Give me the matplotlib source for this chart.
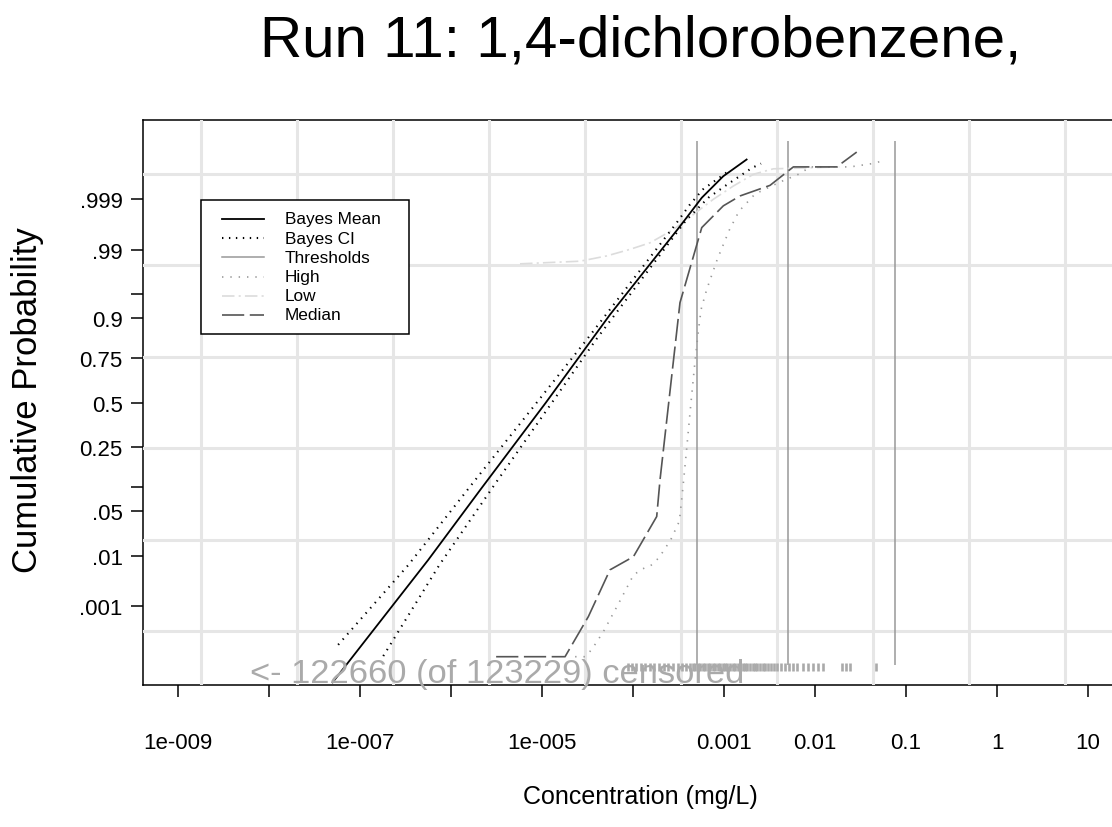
import numpy as np
import matplotlib
matplotlib.use('Agg')
import matplotlib.pyplot as plt
from matplotlib.patches import Rectangle
from matplotlib.lines import Line2D
from matplotlib.ticker import FixedLocator, NullLocator, FixedFormatter
from statistics import NormalDist

plt.rcParams['font.family'] = ['Liberation Sans', 'DejaVu Sans']
plt.rcParams['lines.scale_dashes'] = False

# Bayes mean fit (concentration mg/L, cumulative probability)
mean_conc = [5.0e-8, 5.6e-7, 2.1e-6, 1.1e-5, 5.6e-5, 3.2e-4, 5.7e-4, 9.8e-4, 1.77e-3]
mean_prob = [1.07e-5, 8.4e-3, 0.093, 0.5, 0.91, 0.9961, 0.99908, 0.99971, 0.99989]

# Bayes credible interval, both sides
ci_lo_conc = [5.75e-8, 3.39e-7, 1.76e-6, 3.10e-5, 3.02e-4, 4.16e-4, 5.83e-4, 1.11e-3]
ci_lo_prob = [1.17e-4, 6.8e-3, 0.113, 0.831, 0.99688, 0.99865, 0.99940, 0.99978]
ci_hi_conc = [1.80e-7, 7.43e-7, 3.13e-6, 3.92e-5, 3.82e-4, 6.73e-4, 1.05e-3, 2.03e-3, 2.55e-3]
ci_hi_prob = [5.9e-5, 6.8e-3, 0.113, 0.831, 0.99720, 0.99908, 0.99952, 0.99982, 0.99986]

# empirical curves
med_conc = [3.13e-6, 1.79e-5, 3.23e-5, 5.58e-5, 1.01e-4, 1.82e-4, 1.98e-4, 3.28e-4,
            5.69e-4, 9.82e-4, 1.50e-3, 3.20e-3, 5.78e-3, 1.73e-2, 2.87e-2]
med_prob = [5.67e-5, 5.67e-5, 5.77e-4, 5.54e-3, 9.64e-3, 0.0418, 0.121, 0.9357,
            0.9961, 0.99861, 0.99916, 0.99952, 0.99983, 0.99983, 0.99993]

high_conc = [2.31e-5, 2.97e-5, 3.52e-5, 4.72e-5, 6.89e-5, 1.01e-4, 1.25e-4, 1.58e-4,
             1.93e-4, 2.59e-4, 3.23e-4, 3.52e-4, 3.89e-4, 4.31e-4, 4.80e-4, 5.22e-4,
             5.59e-4, 6.45e-4, 8.44e-4, 1.14e-3, 1.46e-3, 2.19e-3, 4.12e-3, 6.84e-3,
             8.81e-3, 2.43e-2, 4.26e-2, 5.50e-2]
high_prob = [5.67e-5, 5.67e-5, 8.84e-5, 2.51e-4, 1.11e-3, 4.40e-3, 5.70e-3, 6.76e-3,
             9.26e-3, 0.0185, 0.0359, 0.095, 0.245, 0.488, 0.736, 0.861,
             0.9215, 0.9573, 0.9854, 0.9956, 0.99819, 0.99924, 0.99960, 0.99975,
             0.99983, 0.99983, 0.99986, 0.99988]

low_conc = [5.73e-6, 2.62e-5, 5.14e-5, 9.27e-5, 1.54e-4, 2.77e-4, 4.60e-4, 7.62e-4,
            1.26e-3, 2.10e-3, 3.48e-3, 1.88e-2]
low_prob = [0.98257, 0.98422, 0.98713, 0.99010, 0.99245, 0.99573, 0.99788, 0.99900,
            0.99950, 0.99974, 0.99981, 0.99983]

thresholds = [0.0005, 0.005, 0.075]

# censored detection limits (rug)
censored = [8.81e-5, 9.75e-5, 1.08e-4, 1.23e-4, 1.36e-4, 1.54e-4, 1.70e-4, 1.93e-4,
            2.19e-4, 2.43e-4, 2.76e-4, 3.13e-4, 3.45e-4, 3.82e-4,
            4.23e-4, 4.51e-4, 4.80e-4, 5.11e-4, 5.45e-4, 5.80e-4, 6.18e-4, 6.59e-4,
            7.02e-4, 7.48e-4, 7.96e-4, 8.48e-4, 9.04e-4, 9.63e-4, 1.03e-3, 1.09e-3,
            1.16e-3, 1.24e-3, 1.32e-3, 1.41e-3, 1.50e-3, 1.60e-3, 1.70e-3, 1.81e-3,
            1.93e-3, 2.06e-3, 2.19e-3, 2.33e-3, 2.49e-3, 2.65e-3, 2.82e-3,
            3.04e-3, 3.28e-3, 3.54e-3, 3.82e-3, 4.23e-3, 4.68e-3, 5.18e-3, 5.73e-3,
            6.34e-3, 7.38e-3, 8.38e-3, 9.51e-3, 1.08e-2, 1.22e-2, 1.98e-2, 2.19e-2,
            2.42e-2, 4.68e-2]

xticks = [1e-9, 1e-8, 1e-7, 1e-6, 1e-5, 1e-4, 1e-3, 1e-2, 1e-1, 1, 10]
xlabels = ['1e-009', '', '1e-007', '', '1e-005', '', '0.001', '0.01', '0.1', '1', '10']
yticks = [0.001, 0.01, 0.05, 0.1, 0.25, 0.5, 0.75, 0.9, 0.95, 0.99, 0.999]
ylabels = ['.001', '.01', '.05', '', '0.25', '0.5', '0.75', '0.9', '', '.99', '.999']

nd = NormalDist()


def _ppf(p):
    try:
        return nd.inv_cdf(min(max(p, 1e-15), 1 - 1e-15))
    except Exception:
        return np.nan


_ppf_v = np.vectorize(_ppf, otypes=[float])
_cdf_v = np.vectorize(nd.cdf, otypes=[float])


def fwd(p):
    return _ppf_v(np.asarray(p, dtype=float))


def inv(z):
    return _cdf_v(np.asarray(z, dtype=float))


fig = plt.figure(figsize=(11.12, 8.28), dpi=100)
ax = fig.add_axes([143 / 1112, 142 / 828, 994 / 1112, 565.3 / 828])
ax.set_xscale('log')
ax.set_yscale('function', functions=(fwd, inv))
ax.set_xlim(10 ** -9.385, 10 ** 1.538)
ax.set_ylim(nd.cdf(-4.29), nd.cdf(4.30))

# grid, drawn over the frame like the original
for gx in np.logspace(-8.747, 0.747, 10):
    ax.axvline(gx, color='#e6e6e6', lw=2.2, zorder=3)
for gz in [-3.475, -2.085, -0.695, 0.695, 2.085, 3.475]:
    ax.axhline(nd.cdf(gz), color='#e6e6e6', lw=2.2, zorder=3)

ax.vlines(thresholds, nd.cdf(-3.99), nd.cdf(3.97), color='#999999', lw=1.1, zorder=4)
ax.vlines(censored, nd.cdf(-4.08), nd.cdf(-3.96), color='#aaaaaa', lw=1.9, zorder=4)

ax.plot(low_conc, low_prob, color='#dcdcdc', lw=1.2, dashes=(9, 3, 1.5, 3), zorder=4)
ax.plot(high_conc, high_prob, color='#999999', lw=1.2, dashes=(1, 5), zorder=4)
ax.plot(med_conc, med_prob, color='#555555', lw=1.2, dashes=(16, 4), zorder=5)
ax.plot(ci_lo_conc, ci_lo_prob, color='black', lw=1.5, dashes=(1, 4), zorder=5)
ax.plot(ci_hi_conc, ci_hi_prob, color='black', lw=1.5, dashes=(1, 4), zorder=5)
ax.plot(mean_conc, mean_prob, color='black', lw=1.3, zorder=6)

ax.text(0.1076, 0.006, '<- 122660 (of 123229) censored', transform=ax.transAxes,
        fontsize=24.8, color='#aaaaaa', va='baseline', ha='left', zorder=7)

# axes and ticks
ax.xaxis.set_major_locator(FixedLocator(xticks))
ax.xaxis.set_major_formatter(FixedFormatter(xlabels))
ax.xaxis.set_minor_locator(NullLocator())
ax.yaxis.set_major_locator(FixedLocator(yticks))
ax.yaxis.set_major_formatter(FixedFormatter(ylabels))
ax.yaxis.set_minor_locator(NullLocator())
ax.tick_params(axis='both', direction='out', length=8.5, width=1.1, labelsize=16)
ax.tick_params(axis='x', pad=25)
ax.tick_params(axis='y', pad=6)
for s in ['top', 'left', 'bottom']:
    ax.spines[s].set_linewidth(1.1)
ax.spines['right'].set_visible(False)

# legend box
leg_items = [('Bayes Mean', dict(color='black', lw=1.3)),
             ('Bayes CI', dict(color='black', lw=1.5, dashes=(1, 4))),
             ('Thresholds', dict(color='#999999', lw=1.1)),
             ('High', dict(color='#999999', lw=1.2, dashes=(1, 5))),
             ('Low', dict(color='#dcdcdc', lw=1.2, dashes=(9, 3, 1.5, 3))),
             ('Median', dict(color='#555555', lw=1.2, dashes=(16, 4)))]
ax.add_patch(Rectangle((0.0584, 0.621), 0.2096, 0.2376, transform=ax.transAxes,
                       facecolor='white', edgecolor='black', lw=1.1, zorder=8))
for i, (name, st) in enumerate(leg_items):
    yy = (686 - (220 + 19.2 * i)) / 565.3
    ax.add_line(Line2D([0.0792, 0.1221], [yy, yy], transform=ax.transAxes, zorder=9, **st))
    ax.text(0.1429, yy, name, transform=ax.transAxes, fontsize=12.4, va='center',
            ha='left', zorder=9)

fig.text(641 / 1112, 1 - 42 / 828, 'Run 11: 1,4-dichlorobenzene,', ha='center',
         va='center', fontsize=42)
fig.text(640 / 1112, 1 - 797 / 828, 'Concentration (mg/L)', ha='center', va='center',
         fontsize=18)
fig.text(28 / 1112, 1 - 400 / 828, 'Cumulative Probability', ha='center', va='center',
         rotation=90, fontsize=25)

fig.savefig('out.png', dpi=100)
